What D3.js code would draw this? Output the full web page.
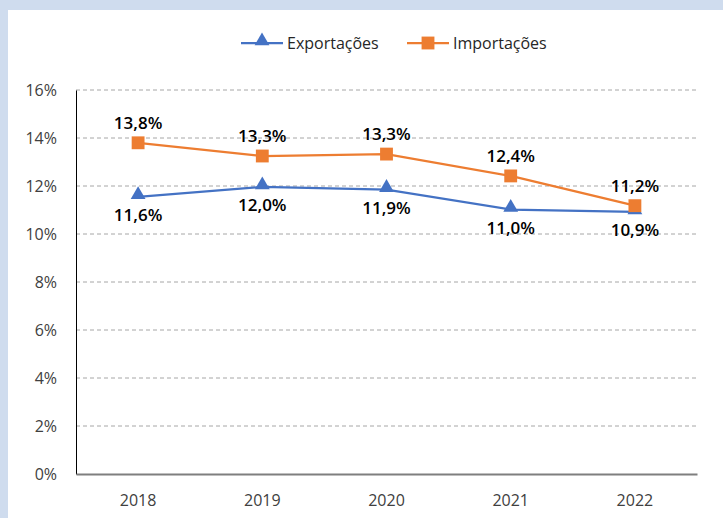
<!DOCTYPE html>
<html>
  <head>
    <meta charset="utf-8" />
    <title>Exportações e Importações</title>
    <script src="https://d3js.org/d3.v7.min.js"></script>
    <style>
        body{
            margin:0;
            background:#cfdcee;
        }
        text{
            font-family:"Open Sans", "Noto Sans", sans-serif;
        }
    </style>
  </head>
  <body>
    <svg id="chart"></svg>
    <script>
      var years = ["2018", "2019", "2020", "2021", "2022"];
      var exportacoes = [11.55, 11.96, 11.85, 11.02, 10.92];
      var importacoes = [13.8, 13.25, 13.33, 12.42, 11.18];
      var yTicks = [0, 2, 4, 6, 8, 10, 12, 14, 16];

      var width = 723, height = 518;
      var margin = {top: 90, right: 26, bottom: 44, left: 76};

      var svg = d3.select("#chart")
        .attr("width", width)
        .attr("height", height);

      // white panel
      svg.append("rect")
        .attr("x", 8).attr("y", 10)
        .attr("width", width - 8).attr("height", height - 10)
        .attr("fill", "#fff");

      var x = d3.scaleBand()
        .domain(years)
        .range([margin.left, width - margin.right]);

      var y = d3.scaleLinear()
        .domain([0, 16])
        .range([height - margin.bottom, margin.top]);

      function cx(d, i) { return x(years[i]) + x.bandwidth() / 2; }

      // gridlines
      svg.append("g").selectAll("line")
        .data(yTicks.filter(function(d){ return d > 0; }))
        .enter().append("line")
        .attr("x1", margin.left).attr("x2", width - margin.right)
        .attr("y1", function(d){ return y(d); })
        .attr("y2", function(d){ return y(d); })
        .attr("stroke", "#a6a6a6")
        .attr("stroke-width", 1)
        .attr("stroke-dasharray", "4,3");

      // y axis
      var yAxis = d3.axisLeft(y).tickValues(yTicks).tickSize(0).tickPadding(19)
        .tickFormat(function(d){ return d + "%"; });
      var gy = svg.append("g")
        .attr("transform", "translate(" + margin.left + ",0)")
        .call(yAxis);
      gy.select(".domain").attr("stroke", "#000").attr("stroke-width", 1);
      gy.selectAll("text").attr("font-size", "16px").attr("fill", "#404040");

      // x axis
      var xAxis = d3.axisBottom(x).tickSize(0).tickPadding(21);
      var gx = svg.append("g")
        .attr("transform", "translate(0," + (height - margin.bottom) + ")")
        .call(xAxis);
      gx.select(".domain").attr("stroke", "#7f7f7f").attr("stroke-width", 2);
      gx.selectAll("text").attr("font-size", "16px").attr("fill", "#404040");

      var line = d3.line()
        .x(cx)
        .y(function(d){ return y(d); });

      var blue = "#4472c4", orange = "#ed7d31";
      var tri = d3.symbol().type(d3.symbolTriangle).size(95);
      var sq = d3.symbol().type(d3.symbolSquare).size(165);

      // Exportações
      svg.append("path").datum(exportacoes)
        .attr("d", line).attr("fill", "none")
        .attr("stroke", blue).attr("stroke-width", 2.25);
      svg.append("g").selectAll("path")
        .data(exportacoes).enter().append("path")
        .attr("d", tri)
        .attr("fill", blue)
        .attr("transform", function(d, i){ return "translate(" + cx(d, i) + "," + (y(d) - 2) + ")"; });

      // Importações
      svg.append("path").datum(importacoes)
        .attr("d", line).attr("fill", "none")
        .attr("stroke", orange).attr("stroke-width", 2.25);
      svg.append("g").selectAll("path")
        .data(importacoes).enter().append("path")
        .attr("d", sq)
        .attr("fill", orange)
        .attr("transform", function(d, i){ return "translate(" + cx(d, i) + "," + y(d) + ")"; });

      function fmt(d) { return (Math.round(d * 10) / 10).toFixed(1).replace(".", ",") + "%"; }

      // labels
      svg.append("g").selectAll("text")
        .data(exportacoes).enter().append("text")
        .attr("x", cx)
        .attr("y", function(d){ return y(d) + 24; })
        .attr("text-anchor", "middle")
        .attr("font-size", "17px")
        .attr("font-weight", 600)
        .attr("fill", "#000")
        .text(fmt);
      svg.append("g").selectAll("text")
        .data(importacoes).enter().append("text")
        .attr("x", cx)
        .attr("y", function(d){ return y(d) - 14; })
        .attr("text-anchor", "middle")
        .attr("font-size", "17px")
        .attr("font-weight", 600)
        .attr("fill", "#000")
        .text(fmt);

      // legend
      var legend = [
        {name: "Exportações", color: blue, sym: tri, x: 241},
        {name: "Importações", color: orange, sym: sq, x: 407}
      ];
      var lg = svg.append("g").selectAll("g")
        .data(legend).enter().append("g")
        .attr("transform", function(d){ return "translate(" + d.x + ",43)"; });
      lg.append("line")
        .attr("x1", 0).attr("x2", 42)
        .attr("stroke", function(d){ return d.color; })
        .attr("stroke-width", 2.25);
      lg.append("path")
        .attr("d", function(d){ return d.sym(); })
        .attr("fill", function(d){ return d.color; })
        .attr("transform", function(d){ return "translate(21," + (d.sym === tri ? -2 : 0) + ")"; });
      lg.append("text")
        .attr("x", 46).attr("y", 6)
        .attr("font-size", "16px")
        .attr("fill", "#262626")
        .text(function(d){ return d.name; });
    </script>
  </body>
</html>
